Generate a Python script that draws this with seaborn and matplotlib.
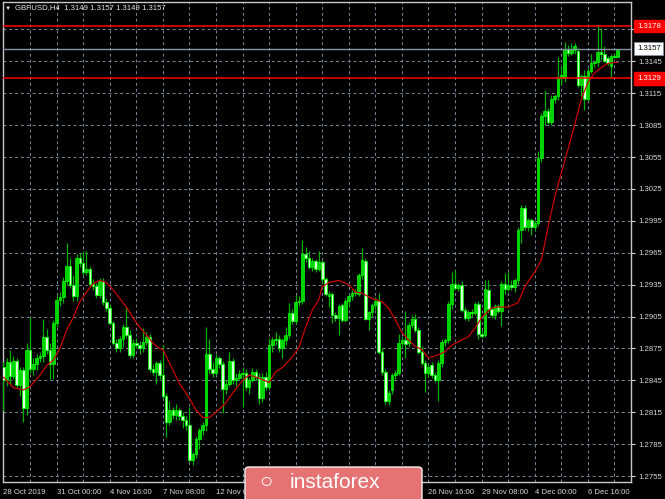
import numpy as np
import pandas as pd
import matplotlib
matplotlib.use("Agg")
import matplotlib.pyplot as plt
import matplotlib.transforms as mtransforms
from matplotlib.patches import FancyBboxPatch
import seaborn as sns

# --- GBPUSD H4 candles (bar 0 = 28 Oct 2019 08:00) ---
opens = [
    1.2858, 1.2845, 1.2862, 1.2849, 1.2863, 1.2841, 1.2855, 1.2819, 1.2874, 1.2856,
    1.2860, 1.2866, 1.2868, 1.2886, 1.2874, 1.2860, 1.2899, 1.2921, 1.2923, 1.2938,
    1.2953, 1.2935, 1.2924, 1.2960, 1.2955, 1.2947, 1.2950, 1.2936, 1.2934, 1.2925,
    1.2938, 1.2919, 1.2913, 1.2899, 1.2880, 1.2875, 1.2884, 1.2895, 1.2888, 1.2869,
    1.2880, 1.2878, 1.2875, 1.2881, 1.2886, 1.2856, 1.2853, 1.2861, 1.2850, 1.2830,
    1.2806, 1.2817, 1.2812, 1.2817, 1.2811, 1.2808, 1.2803, 1.2770, 1.2776, 1.2790,
    1.2798, 1.2803, 1.2870, 1.2856, 1.2852, 1.2866, 1.2860, 1.2837, 1.2842, 1.2863,
    1.2845, 1.2847, 1.2851, 1.2852, 1.2839, 1.2845, 1.2853, 1.2848, 1.2828, 1.2848,
    1.2839, 1.2878, 1.2883, 1.2884, 1.2875, 1.2883, 1.2888, 1.2908, 1.2901, 1.2919,
    1.2920, 1.2964, 1.2960, 1.2952, 1.2957, 1.2950, 1.2956, 1.2940, 1.2924, 1.2926,
    1.2906, 1.2904, 1.2916, 1.2902, 1.2920, 1.2924, 1.2927, 1.2926, 1.2944, 1.2957,
    1.2903, 1.2909, 1.2916, 1.2920, 1.2872, 1.2853, 1.2826, 1.2836, 1.2850, 1.2852,
    1.2880, 1.2883, 1.2880, 1.2897, 1.2903, 1.2892, 1.2872, 1.2861, 1.2852, 1.2859,
    1.2850, 1.2845, 1.2861, 1.2881, 1.2883, 1.2917, 1.2936, 1.2932, 1.2935, 1.2911,
    1.2904, 1.2909, 1.2908, 1.2917, 1.2889, 1.2888, 1.2930, 1.2912, 1.2906, 1.2915,
    1.2910, 1.2936, 1.2931, 1.2935, 1.2933, 1.2939, 1.2986, 1.3007, 1.2989, 1.2996,
    1.2989, 1.2993, 1.3054, 1.3094, 1.3098, 1.3088, 1.3110, 1.3112, 1.3129, 1.3129,
    1.3157, 1.3153, 1.3156, 1.3155, 1.3123, 1.3131, 1.3110, 1.3136, 1.3143, 1.3144,
    1.3154, 1.3152, 1.3148, 1.3141, 1.3150, 1.3149,
]
highs = [
    1.2862, 1.2866, 1.2874, 1.2868, 1.2866, 1.2858, 1.2858, 1.2880, 1.2905, 1.2866,
    1.2870, 1.2872, 1.2903, 1.2893, 1.2880, 1.2902, 1.2925, 1.2928, 1.2942, 1.2974,
    1.2960, 1.2944, 1.2964, 1.2965, 1.2967, 1.2967, 1.2953, 1.2940, 1.2937, 1.2941,
    1.2941, 1.2922, 1.2916, 1.2901, 1.2884, 1.2887, 1.2898, 1.2914, 1.2892, 1.2884,
    1.2885, 1.2882, 1.2894, 1.2890, 1.2889, 1.2860, 1.2863, 1.2864, 1.2878, 1.2833,
    1.2826, 1.2820, 1.2823, 1.2819, 1.2815, 1.2811, 1.2820, 1.2778, 1.2793, 1.2800,
    1.2806, 1.2895, 1.2884, 1.2862, 1.2870, 1.2868, 1.2863, 1.2845, 1.2872, 1.2866,
    1.2852, 1.2855, 1.2858, 1.2856, 1.2847, 1.2857, 1.2856, 1.2852, 1.2852, 1.2853,
    1.2885, 1.2886, 1.2890, 1.2888, 1.2885, 1.2895, 1.2918, 1.2912, 1.2925, 1.2924,
    1.2977, 1.2970, 1.2967, 1.2960, 1.2959, 1.2967, 1.2958, 1.2942, 1.2929, 1.2928,
    1.2909, 1.2917, 1.2918, 1.2922, 1.2926, 1.2930, 1.2931, 1.2946, 1.2969, 1.2960,
    1.2910, 1.2918, 1.2923, 1.2927, 1.2875, 1.2856, 1.2836, 1.2852, 1.2855, 1.2889,
    1.2886, 1.2910, 1.2900, 1.2906, 1.2907, 1.2895, 1.2877, 1.2864, 1.2860, 1.2862,
    1.2853, 1.2864, 1.2884, 1.2885, 1.2920, 1.2947, 1.2949, 1.2937, 1.2938, 1.2914,
    1.2911, 1.2912, 1.2919, 1.2920, 1.2892, 1.2939, 1.2939, 1.2914, 1.2917, 1.2917,
    1.2938, 1.2946, 1.2947, 1.2939, 1.2941, 1.2989, 1.3010, 1.3010, 1.2998, 1.2998,
    1.2996, 1.3061, 1.3096, 1.3118, 1.3101, 1.3113, 1.3114, 1.3149, 1.3141, 1.3163,
    1.3160, 1.3162, 1.3162, 1.3158, 1.3133, 1.3137, 1.3139, 1.3152, 1.3146, 1.3179,
    1.3176, 1.3159, 1.3150, 1.3152, 1.3153, 1.3157,
]
lows = [
    1.2816, 1.2840, 1.2841, 1.2846, 1.2838, 1.2830, 1.2806, 1.2812, 1.2852, 1.2850,
    1.2855, 1.2862, 1.2862, 1.2870, 1.2846, 1.2846, 1.2895, 1.2915, 1.2918, 1.2935,
    1.2932, 1.2920, 1.2920, 1.2952, 1.2944, 1.2944, 1.2933, 1.2930, 1.2922, 1.2922,
    1.2916, 1.2910, 1.2897, 1.2878, 1.2872, 1.2872, 1.2876, 1.2885, 1.2866, 1.2866,
    1.2875, 1.2870, 1.2872, 1.2878, 1.2853, 1.2850, 1.2842, 1.2845, 1.2828, 1.2792,
    1.2803, 1.2809, 1.2808, 1.2808, 1.2800, 1.2798, 1.2768, 1.2765, 1.2772, 1.2780,
    1.2794, 1.2797, 1.2852, 1.2848, 1.2850, 1.2857, 1.2814, 1.2832, 1.2840, 1.2842,
    1.2840, 1.2845, 1.2820, 1.2836, 1.2832, 1.2843, 1.2845, 1.2823, 1.2825, 1.2836,
    1.2836, 1.2872, 1.2878, 1.2872, 1.2866, 1.2878, 1.2885, 1.2898, 1.2898, 1.2915,
    1.2917, 1.2956, 1.2950, 1.2948, 1.2947, 1.2948, 1.2937, 1.2924, 1.2914, 1.2899,
    1.2901, 1.2888, 1.2900, 1.2900, 1.2914, 1.2921, 1.2924, 1.2924, 1.2940, 1.2902,
    1.2892, 1.2905, 1.2912, 1.2870, 1.2850, 1.2823, 1.2822, 1.2832, 1.2845, 1.2850,
    1.2875, 1.2866, 1.2876, 1.2894, 1.2890, 1.2870, 1.2859, 1.2834, 1.2848, 1.2847,
    1.2843, 1.2826, 1.2858, 1.2877, 1.2880, 1.2912, 1.2930, 1.2929, 1.2909, 1.2902,
    1.2901, 1.2905, 1.2906, 1.2884, 1.2885, 1.2886, 1.2908, 1.2904, 1.2903, 1.2908,
    1.2896, 1.2926, 1.2929, 1.2930, 1.2928, 1.2936, 1.2974, 1.2986, 1.2985, 1.2982,
    1.2985, 1.2990, 1.3050, 1.3085, 1.3086, 1.3085, 1.3106, 1.3109, 1.3123, 1.3126,
    1.3150, 1.3151, 1.3152, 1.3121, 1.3112, 1.3099, 1.3108, 1.3134, 1.3140, 1.3141,
    1.3146, 1.3144, 1.3142, 1.3130, 1.3148, 1.3149,
]
closes = [
    1.2845, 1.2862, 1.2849, 1.2863, 1.2841, 1.2855, 1.2819, 1.2874, 1.2856, 1.2860,
    1.2866, 1.2868, 1.2886, 1.2874, 1.2860, 1.2899, 1.2921, 1.2923, 1.2938, 1.2953,
    1.2935, 1.2924, 1.2960, 1.2955, 1.2947, 1.2950, 1.2936, 1.2934, 1.2925, 1.2938,
    1.2919, 1.2913, 1.2899, 1.2880, 1.2875, 1.2884, 1.2895, 1.2888, 1.2869, 1.2880,
    1.2878, 1.2875, 1.2881, 1.2886, 1.2856, 1.2853, 1.2861, 1.2850, 1.2830, 1.2806,
    1.2817, 1.2812, 1.2817, 1.2811, 1.2808, 1.2803, 1.2770, 1.2776, 1.2790, 1.2798,
    1.2803, 1.2870, 1.2856, 1.2852, 1.2866, 1.2860, 1.2837, 1.2842, 1.2863, 1.2845,
    1.2847, 1.2851, 1.2852, 1.2839, 1.2845, 1.2853, 1.2848, 1.2828, 1.2848, 1.2839,
    1.2878, 1.2883, 1.2884, 1.2875, 1.2883, 1.2888, 1.2908, 1.2901, 1.2919, 1.2920,
    1.2964, 1.2960, 1.2952, 1.2957, 1.2950, 1.2956, 1.2940, 1.2926, 1.2926, 1.2906,
    1.2904, 1.2915, 1.2902, 1.2920, 1.2924, 1.2927, 1.2928, 1.2944, 1.2958, 1.2903,
    1.2909, 1.2916, 1.2920, 1.2872, 1.2853, 1.2826, 1.2833, 1.2850, 1.2852, 1.2880,
    1.2883, 1.2879, 1.2897, 1.2903, 1.2892, 1.2872, 1.2861, 1.2852, 1.2858, 1.2850,
    1.2845, 1.2861, 1.2881, 1.2883, 1.2917, 1.2936, 1.2932, 1.2935, 1.2911, 1.2904,
    1.2909, 1.2908, 1.2917, 1.2889, 1.2887, 1.2931, 1.2912, 1.2906, 1.2915, 1.2910,
    1.2936, 1.2931, 1.2935, 1.2933, 1.2939, 1.2986, 1.3007, 1.2989, 1.2996, 1.2989,
    1.2993, 1.3054, 1.3094, 1.3098, 1.3088, 1.3110, 1.3112, 1.3129, 1.3132, 1.3157,
    1.3153, 1.3156, 1.3159, 1.3123, 1.3131, 1.3110, 1.3136, 1.3143, 1.3144, 1.3154,
    1.3152, 1.3145, 1.3143, 1.3150, 1.3149, 1.3157,
]

# --- red moving average, sampled along the line ---
ma_bars = [0, 3, 6, 8, 11, 13, 15, 17, 19, 21, 23, 25, 27, 29, 31, 33, 35, 37, 39, 41,
           43, 45, 47, 48, 51, 53, 56, 58, 60, 62, 64, 67, 69, 72, 74, 77, 80, 82, 84, 87,
           89, 91, 93, 95, 96, 98, 101, 104, 106, 108, 111, 114, 116, 118, 120, 122, 124,
           126, 128, 131, 133, 135, 138, 140, 142, 144, 147, 149, 152, 155, 157, 160, 162,
           164, 166, 168, 170, 172, 174, 176, 178, 180, 182, 184, 185]
ma_values = [1.2848, 1.2838, 1.2836, 1.2839, 1.2850, 1.2859, 1.2864, 1.2875, 1.2892, 1.2904,
             1.2919, 1.2928, 1.2936, 1.2939, 1.2937, 1.2930, 1.2922, 1.2914, 1.2904, 1.2895,
             1.2888, 1.2880, 1.2875, 1.2874, 1.2855, 1.2842, 1.2828, 1.2817, 1.2810, 1.2810,
             1.2815, 1.2824, 1.2833, 1.2845, 1.2850, 1.2847, 1.2843, 1.2853, 1.2857, 1.2867,
             1.2876, 1.2895, 1.2911, 1.2921, 1.2933, 1.2937, 1.2939, 1.2935, 1.2928, 1.2927,
             1.2922, 1.2919, 1.2913, 1.2902, 1.2890, 1.2883, 1.2877, 1.2874, 1.2866, 1.2869,
             1.2872, 1.2878, 1.2883, 1.2886, 1.2894, 1.2904, 1.2913, 1.2914, 1.2914, 1.2918,
             1.2933, 1.2947, 1.2958, 1.2989, 1.3017, 1.3040, 1.3062, 1.3085, 1.3109, 1.3125,
             1.3134, 1.3139, 1.3143, 1.3144, 1.3144]

price_ticks = [1.2755, 1.2785, 1.2815, 1.2845, 1.2875, 1.2905, 1.2935, 1.2965,
               1.2995, 1.3025, 1.3055, 1.3085, 1.3115, 1.3145, 1.3175]
date_bars = [0, 16, 32, 48, 64, 80, 96, 112, 128, 144, 160, 176]
# the three labels under the watermark are not visible in the chart
date_labels = ["28 Oct 2019", "31 Oct 00:00", "4 Nov 16:00", "7 Nov 08:00",
               "12 Nov 00:00", "", "", "",
               "26 Nov 16:00", "29 Nov 08:00", "4 Dec 00:00", "6 Dec 16:00"]
red_levels = [1.3178, 1.3129]
last_price = 1.3157
title = "GBPUSD,H4  1.3149 1.3157 1.3149 1.3157"

sns.set_style("dark", {"axes.facecolor": "black", "figure.facecolor": "black"})
plt.rcParams["font.family"] = ["Liberation Sans", "DejaVu Sans"]

W, H = 665, 499
fig = plt.figure(figsize=(W / 100, H / 100), dpi=100, facecolor="black")
ax = fig.add_axes([3 / W, 17 / H, 628 / W, 480 / H])
ax.set_facecolor("black")

df = pd.DataFrame({"open": opens, "high": highs, "low": lows, "close": closes})
df["bar"] = np.arange(len(df))
bull = df["close"] >= df["open"]

# wicks
ax.vlines(df["bar"], df["low"], df["high"], color="#00b400", linewidth=0.9, zorder=3)
# bodies
body_lo = df[["open", "close"]].min(axis=1)
body_h = (df["close"] - df["open"]).abs().clip(lower=0.00006)
ax.bar(df["bar"][bull], body_h[bull], bottom=body_lo[bull], width=0.78,
       color="#00d400", edgecolor="#00ff00", linewidth=0.5, zorder=4)
ax.bar(df["bar"][~bull], body_h[~bull], bottom=body_lo[~bull], width=0.78,
       color="#d8ffd8", edgecolor="#00ff00", linewidth=0.6, zorder=4)

ma = pd.DataFrame({"bar": ma_bars, "ma": ma_values})
sns.lineplot(data=ma, x="bar", y="ma", color="#cc0000", linewidth=0.9, ax=ax, zorder=5)

for lvl in red_levels:
    ax.axhline(lvl, color="#ff0000", linewidth=1.1, zorder=6)
ax.axhline(last_price, color="#8592a4", linewidth=1.0, zorder=6)

ax.set_xlim(-0.15, -0.15 + 628 / 3.32)
ax.set_ylim(1.27494, 1.32008)

# grid: dashed, every 8 bars and every price tick
ax.set_xticks(date_bars)
ax.set_xticks([b + 8 for b in date_bars], minor=True)
ax.set_xticklabels(date_labels)
ax.set_yticks(price_ticks)
ax.set_yticklabels([f"{p:.4f}" for p in price_ticks])
ax.grid(True, which="both", color="#778899", linestyle=(0, (3, 3)), linewidth=0.7, zorder=1)
ax.set_axisbelow(True)
ax.set_xlabel("")
ax.set_ylabel("")

ax.yaxis.tick_right()
ax.tick_params(axis="y", which="major", colors="#d8d8d8", labelsize=5.6, length=3,
               width=0.8, pad=2, direction="out")
ax.tick_params(axis="x", which="major", colors="#d8d8d8", labelsize=5.6, length=3,
               width=0.8, pad=2, direction="out")
ax.tick_params(axis="x", which="minor", length=0)
for lab in ax.get_xticklabels():
    lab.set_horizontalalignment("left")
for sp in ax.spines.values():
    sp.set_visible(True)
    sp.set_color("#c8c8c8")
    sp.set_linewidth(1.0)

# price boxes on the right scale
trans = mtransforms.blended_transform_factory(ax.transAxes, ax.transData)
for lvl in red_levels:
    ax.text(1.0095, lvl, f"{lvl:.4f}", transform=trans, ha="left", va="center",
            fontsize=5.6, color="white", zorder=10, clip_on=False,
            bbox=dict(boxstyle="square,pad=0.35", fc="#ff0000", ec="#ff0000"))
ax.text(1.0095, last_price, f"{last_price:.4f}", transform=trans, ha="left", va="center",
        fontsize=5.6, color="black", zorder=10, clip_on=False,
        bbox=dict(boxstyle="square,pad=0.35", fc="white", ec="#8592a4", lw=0.6))

# chart caption
fig.text(5 / W, 1 - 8 / H, "\u25bc", fontsize=4.5, color="#e6e6e6", va="center", ha="left")
fig.text(15 / W, 1 - 8 / H, title, fontsize=5.6, color="#e6e6e6", va="center", ha="left")

# watermark
box = FancyBboxPatch((245 / W, -6 / H), 177 / W, 38 / H, transform=fig.transFigure,
                     boxstyle="round,pad=0,rounding_size=0.006", fc="#e57373",
                     ec="#f4f4f4", lw=1.0, zorder=20)
fig.patches.append(box)
fig.text(290 / W, 16 / H, "instaforex", fontsize=15, color="white",
         va="center", ha="left", zorder=21)
fig.text(266 / W, 16 / H, "\u25cb", fontsize=16, color="white", va="center", ha="center",
         zorder=21)

fig.savefig("out.png", dpi=100, facecolor="black")
